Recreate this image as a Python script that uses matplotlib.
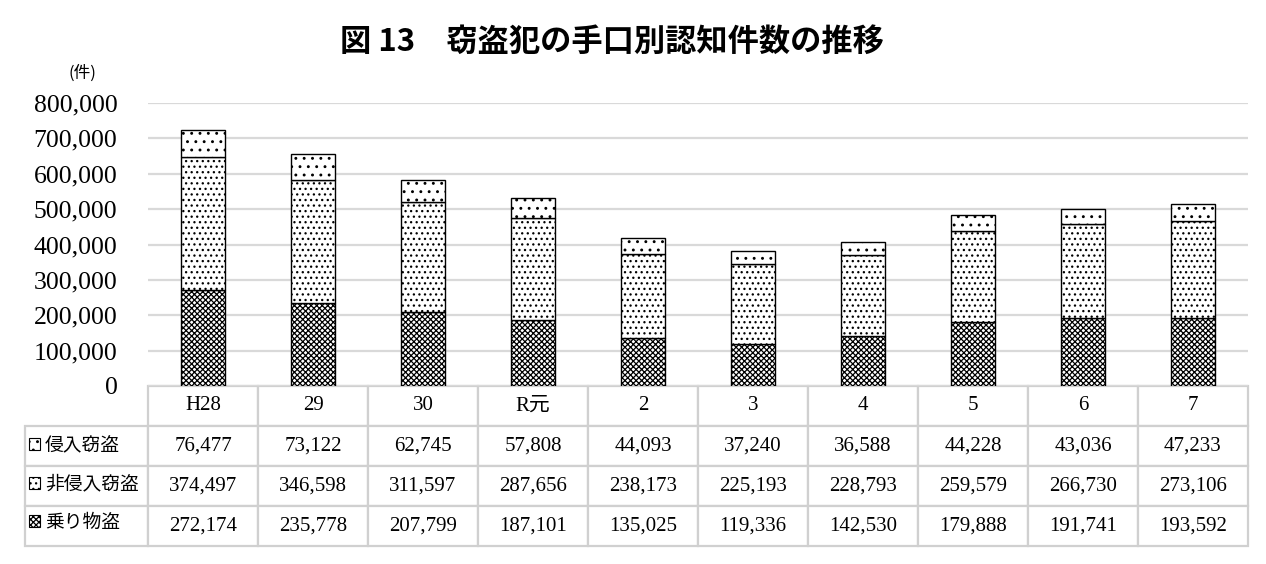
import matplotlib
matplotlib.use("Agg")
import matplotlib.pyplot as plt
from matplotlib.patches import Patch
from matplotlib.ticker import FuncFormatter

categories = ['H28', '29', '30', 'R元', '2', '3', '4', '5', '6', '7']
series_names = ['侵入窃盗', '非侵入窃盗', '乗り物盗']
shinnyu = [76477, 73122, 62745, 57808, 44093, 37240, 36588, 44228, 43036, 47233]
hishinnyu = [374497, 346598, 311597, 287656, 238173, 225193, 228793, 259579, 266730, 273106]
norimono = [272174, 235778, 207799, 187101, 135025, 119336, 142530, 179888, 191741, 193592]
yticks = [0, 100000, 200000, 300000, 400000, 500000, 600000, 700000, 800000]
title = '図 13\u3000窃盗犯の手口別認知件数の推移'

SERIF = ['Liberation Serif', 'Noto Sans CJK JP']
JP = ['Noto Sans CJK JP', 'DejaVu Sans']
plt.rcParams['hatch.linewidth'] = 0.9

W, H = 1266, 564
fig = plt.figure(figsize=(W / 100, H / 100), dpi=100)
ax_l, ax_r, ax_t, ax_b = 148, 1248, 103, 386
ax = fig.add_axes([ax_l / W, 1 - ax_b / H, (ax_r - ax_l) / W, (ax_b - ax_t) / H])

x = list(range(len(categories)))
hatches = ['..', '...', 'xxxxxx']
bw = 0.4
ax.bar(x, norimono, bw, color='white', edgecolor='black', linewidth=1.0, hatch=hatches[2])
ax.bar(x, hishinnyu, bw, bottom=norimono, color='white', edgecolor='black', linewidth=1.0, hatch=hatches[1])
bottom2 = [a + b for a, b in zip(norimono, hishinnyu)]
ax.bar(x, shinnyu, bw, bottom=bottom2, color='white', edgecolor='black', linewidth=1.0, hatch=hatches[0])

ax.set_xlim(-0.5, len(categories) - 0.5)
ax.set_ylim(0, 800000)
ax.set_yticks(yticks)
ax.yaxis.set_major_formatter(FuncFormatter(lambda v, p: f'{int(v):,}'))
ax.set_xticks([])
ax.tick_params(axis='y', length=0, pad=22)
for lab in ax.get_yticklabels():
    lab.set_fontfamily(SERIF)
    lab.set_fontsize(18.5)
ax.yaxis.grid(True, color='#d9d9d9', linewidth=1.6)
ax.set_axisbelow(True)
for s in ax.spines.values():
    s.set_visible(False)

# data table
tbl_left, tbl_bottom = 25, 546
ax_w, ax_h = ax_r - ax_l, ax_b - ax_t
cell_text = []
for vals in [shinnyu, hishinnyu, norimono]:
    cell_text.append([''] + [f'{v:,}' for v in vals])
col_labels = [''] + categories
label_w = ax_l - tbl_left
colw = [label_w] + [ax_w / len(categories)] * len(categories)
tot = sum(colw)
colw = [c / tot for c in colw]
tbl = ax.table(cellText=cell_text, colLabels=col_labels, cellLoc='center',
               colWidths=colw,
               bbox=[(tbl_left - ax_l) / ax_w, -(tbl_bottom - ax_b) / ax_h,
                     (ax_r - tbl_left) / ax_w, (tbl_bottom - ax_b) / ax_h])
tbl.auto_set_font_size(False)
for (r, c), cell in tbl.get_celld().items():
    cell.set_edgecolor('#d0d0d0')
    cell.set_linewidth(1.6)
    cell.get_text().set_fontfamily(SERIF)
    cell.get_text().set_fontsize(15)
    if r == 0 and c == 0:
        cell.visible_edges = ''

# legend used as row labels of the table
handles = [Patch(facecolor='white', edgecolor='black', linewidth=0.8, hatch=h) for h in hatches]
fig.legend(handles, series_names, loc='upper left',
           bbox_to_anchor=(29 / W, 1 - 435 / H), frameon=False,
           prop={'family': JP, 'size': 13.5}, handlelength=0.6, handleheight=0.6,
           handletextpad=0.25, labelspacing=0.92, borderpad=0, borderaxespad=0)

fig.text(612 / W, 1 - 42 / H, title, ha='center', va='center', fontsize=22.5,
         fontweight='bold', family=JP)
fig.text(82 / W, 1 - 73 / H, '(件)', ha='center', va='center', fontsize=12, family=JP)

fig.savefig('out.png', dpi=100)
